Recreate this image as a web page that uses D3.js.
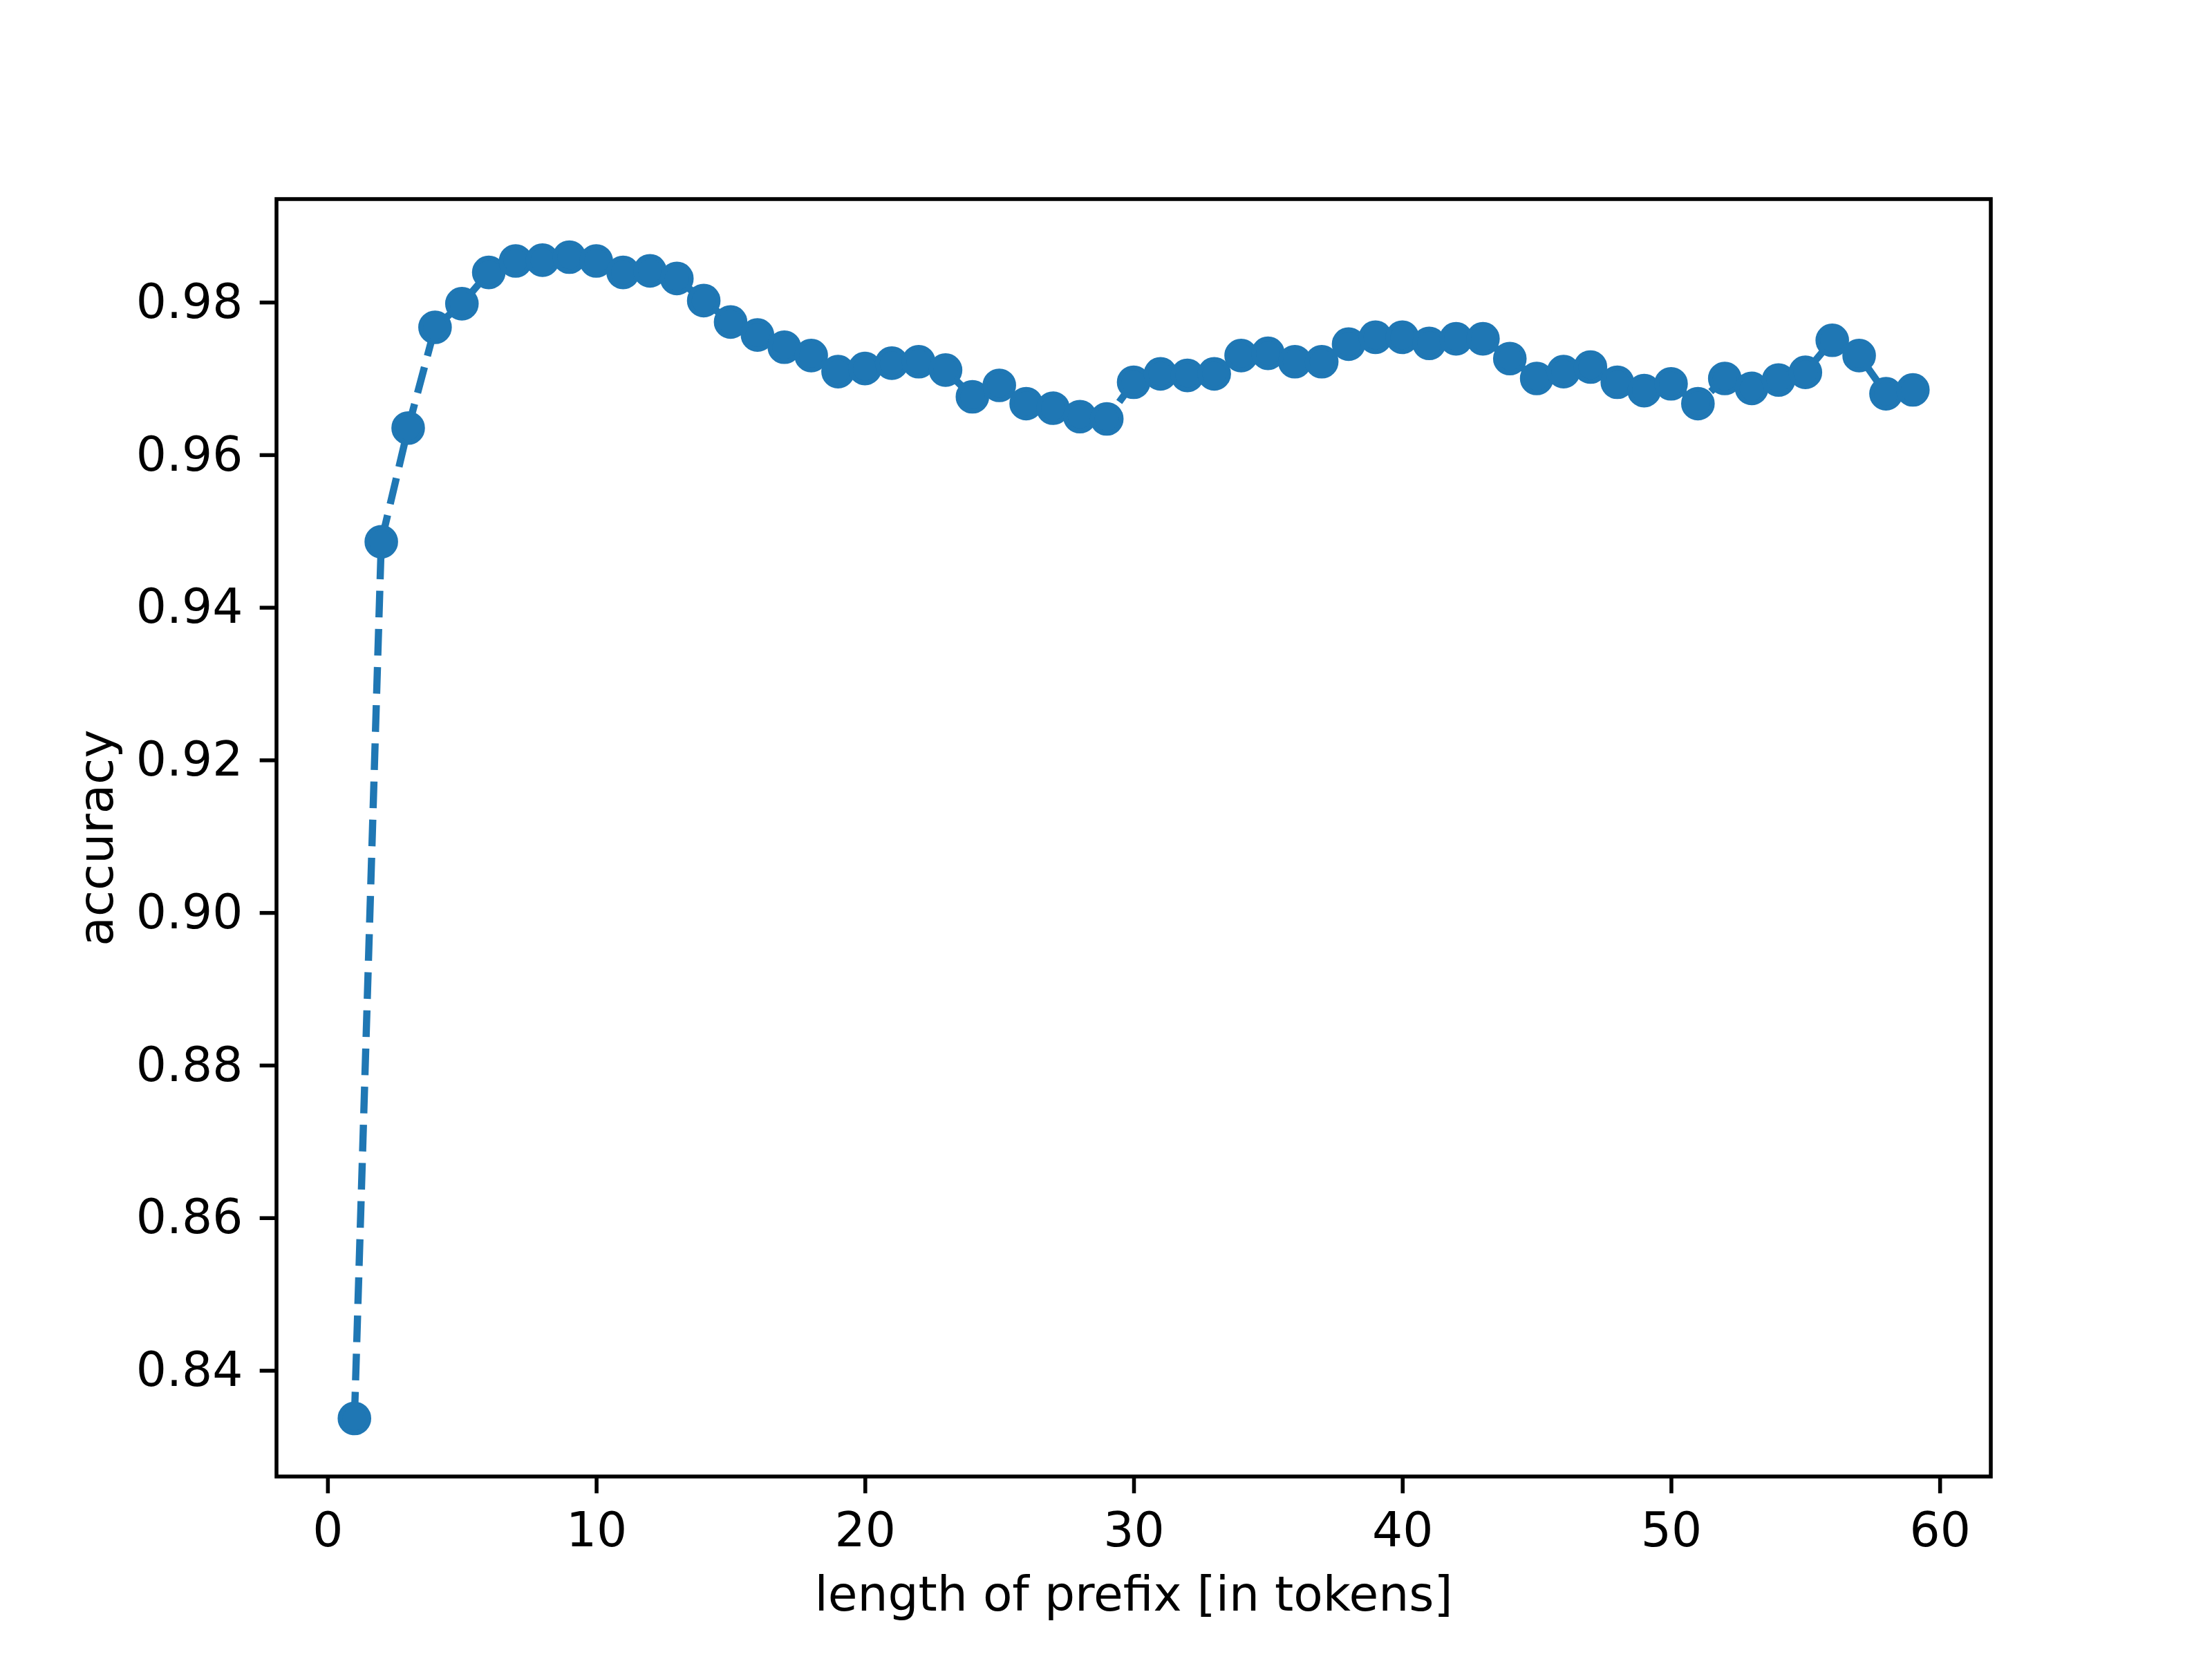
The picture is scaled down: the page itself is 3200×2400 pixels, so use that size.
<!DOCTYPE html>
<html>
<head>
<meta charset="utf-8">
<script src="https://cdn.jsdelivr.net/npm/d3@7"></script>
<style>
  body { margin: 0; background: #fff; }
  text { font-family: "DejaVu Sans", sans-serif; fill: #000; }
</style>
</head>
<body>
<div id="chart"></div>
<script>
// Prefix length vs accuracy

// Data
var prefixLen = d3.range(1, 60)
var accuracy = [
  0.8337, 0.9486, 0.9635, 0.9767, 0.9798, 0.9839, 0.9854, 0.9855, 0.9859, 0.9854,
  0.9839, 0.9841, 0.9831, 0.9802, 0.9774, 0.9757, 0.9741, 0.9730, 0.9709, 0.9713,
  0.9720, 0.9722, 0.9711, 0.9676, 0.9691, 0.9667, 0.9661, 0.9650, 0.9647, 0.9695,
  0.9706, 0.9704, 0.9706, 0.9730, 0.9733, 0.9722, 0.9722, 0.9745, 0.9754, 0.9754,
  0.9746, 0.9752, 0.9752, 0.9726, 0.9700, 0.9709, 0.9715, 0.9695, 0.9684, 0.9693,
  0.9667, 0.9700, 0.9687, 0.9698, 0.9708, 0.9750, 0.9730, 0.9680, 0.9685
]
var xTicks = [0, 10, 20, 30, 40, 50, 60]
var yTicks = [0.84, 0.86, 0.88, 0.90, 0.92, 0.94, 0.96, 0.98]

var width = 3200
var height = 2400
var margin = { top: 288, right: 320, bottom: 264, left: 400 }
var pt = 500 / 72 // figure dpi 500

var svg = d3.select('#chart')
  .append('svg')
  .attr('width', width)
  .attr('height', height)

var data = prefixLen.map((d, i) => ({ x: d, y: accuracy[i] }))

// matplotlib style 5% margins
function padded(ext) {
  var r = ext[1] - ext[0]
  return [ext[0] - 0.05 * r, ext[1] + 0.05 * r]
}

var xScale = d3.scaleLinear()
  .domain(padded(d3.extent(prefixLen)))
  .range([margin.left, width - margin.right])

var yScale = d3.scaleLinear()
  .domain(padded(d3.extent(accuracy)))
  .range([height - margin.bottom, margin.top])

var color = '#1f77b4'

// Line
var line = d3.line()
  .x(d => xScale(d.x))
  .y(d => yScale(d.y))

svg.append('path')
  .datum(data)
  .attr('d', line)
  .attr('fill', 'none')
  .attr('stroke', color)
  .attr('stroke-width', 1.5 * pt)
  .attr('stroke-dasharray', `${3.7 * 1.5 * pt},${1.6 * 1.5 * pt}`)

// Markers (size 6pt + 1pt edge)
svg.selectAll('circle')
  .data(data)
  .enter()
  .append('circle')
  .attr('cx', d => xScale(d.x))
  .attr('cy', d => yScale(d.y))
  .attr('r', 3 * pt)
  .attr('fill', color)
  .attr('stroke', color)
  .attr('stroke-width', 1 * pt)

// Axes
var tickLen = 3.5 * pt
var fontSize = 10 * pt

var xAxis = d3.axisBottom(xScale)
  .tickValues(xTicks)
  .tickFormat(d3.format('d'))
  .tickSize(tickLen)
  .tickPadding(3.5 * pt)

var yAxis = d3.axisLeft(yScale)
  .tickValues(yTicks)
  .tickFormat(d3.format('.2f'))
  .tickSize(tickLen)
  .tickPadding(3.5 * pt)

var gx = svg.append('g')
  .attr('transform', `translate(0, ${height - margin.bottom})`)
  .call(xAxis)

var gy = svg.append('g')
  .attr('transform', `translate(${margin.left}, 0)`)
  .call(yAxis)

;[gx, gy].forEach(g => {
  g.select('.domain').remove()
  g.selectAll('line').attr('stroke', '#000').attr('stroke-width', 0.8 * pt)
  g.selectAll('text')
    .attr('font-family', '"DejaVu Sans", sans-serif')
    .attr('font-size', fontSize)
    .attr('fill', '#000')
})
gx.selectAll('text').attr('dy', '0.76em')

// Frame
svg.append('rect')
  .attr('x', margin.left)
  .attr('y', margin.top)
  .attr('width', width - margin.left - margin.right)
  .attr('height', height - margin.top - margin.bottom)
  .attr('fill', 'none')
  .attr('stroke', '#000')
  .attr('stroke-width', 0.8 * pt)
  .attr('stroke-linejoin', 'miter')

// Axis labels
svg.append('text')
  .attr('x', (margin.left + width - margin.right) / 2)
  .attr('y', 2330)
  .attr('text-anchor', 'middle')
  .attr('font-size', fontSize)
  .text('length of prefix [in tokens]')

svg.append('text')
  .attr('transform', `translate(163, ${(margin.top + height - margin.bottom) / 2}) rotate(-90)`)
  .attr('text-anchor', 'middle')
  .attr('font-size', fontSize)
  .text('accuracy')
</script>
</body>
</html>
